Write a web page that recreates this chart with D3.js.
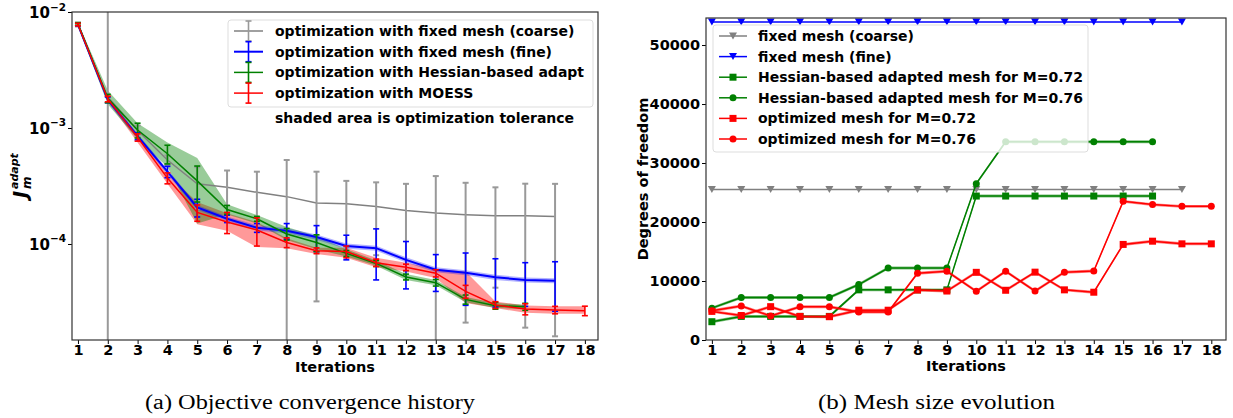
<!DOCTYPE html>
<html>
<head>
<meta charset="utf-8">
<script src="https://cdn.jsdelivr.net/npm/d3@7"></script>
<style>
body { margin: 0; background: #fff; }
svg text { font-family: "DejaVu Sans", sans-serif; font-weight: bold; fill: #000; }
.caption { font-family: "Liberation Serif", serif; font-weight: normal; }
</style>
</head>
<body>
<svg id="drawing_region" width="1233" height="418"></svg>
<script>
// ---- data (a): objective history ----
const iterations = [1,2,3,4,5,6,7,8,9,10,11,12,13,14,15,16,17,18];
const objTicks = [1e-2, 1e-3, 1e-4];
const objTickExp = ["\u22122", "\u22123", "\u22124"];

const coarseObj = [0.0078,0.00185,0.00095,0.00053,0.00033,0.000308,0.000279,0.000256,0.000226,0.000222,0.00021,0.000194,0.000185,0.000179,0.000175,0.000175,0.000173];
const coarseErr = [0.0003,0.009,0.0001,0.00005,0.00013,0.000122,0.000141,0.000274,0.000194,0.000128,0.00013,0.000136,0.0002,0.000158,0.000133,0.000156,0.000157];

const fineObj = [0.0078,0.00175,0.00085,0.00042,0.000207,0.000165,0.000138,0.00013,0.000115,0.000096,0.000092,0.000073,0.00006,0.0000566,0.0000516,0.000049,0.0000483];
const fineErr = [0.0002,0.0001,0.00006,0.000047,0.000036,0.000012,0.000012,0.00002,0.000029,0.000023,0.000043,0.000032,0.000021,0.000027,0.000023,0.00002,0.000022];
const fineBandHi = [0.0081,0.00183,0.00089,0.00044,0.000217,0.000173,0.000145,0.000137,0.000121,0.000101,0.0000966,0.0000767,0.000063,0.0000594,0.0000542,0.0000515,0.0000507];
const fineBandLo = [0.0075,0.00167,0.00081,0.0004,0.000197,0.000157,0.000131,0.000124,0.000109,0.0000912,0.0000874,0.0000694,0.000057,0.0000538,0.000049,0.0000466,0.0000459];

const hessObj = [0.0079,0.0018,0.00096,0.0006,0.00035,0.000198,0.000165,0.000122,0.000103,0.000083,0.000068,0.000052,0.0000464,0.0000333,0.0000294,0.0000288];
const hessErr = [0.0002,0.00015,0.00014,0.00011,0.00012,0.000017,0.000008,0.000014,0.000017,0.000005,0.000004,0.000003,0.000003,0.000003,0.000002,0.000002];
const hessBandHi = [0.0081,0.0021,0.0011,0.00075,0.00055,0.00022,0.000178,0.00014,0.000117,0.00009,0.000072,0.000055,0.000049,0.000035,0.000031,0.00003];
const hessBandLo = [0.0075,0.0016,0.0008,0.00046,0.00015,0.00018,0.00015,0.000108,0.00009,0.000078,0.000065,0.000049,0.000044,0.0000315,0.000028,0.0000275];

const moessObj = [0.0078,0.00178,0.00083,0.00037,0.000187,0.000155,0.000132,0.000103,0.0000875,0.000086,0.000069,0.000063,0.000056,0.000039,0.0000298,0.0000275,0.000027,0.0000266];
const moessErr = [0.0002,0.0001,0.00006,0.00004,0.00003,0.000032,0.000036,0.00001,0.000005,0.00001,0.000005,0.000004,0.000004,0.000005,0.000002,0.000003,0.000002,0.0000025];
const moessBandHi = [0.008,0.0019,0.00088,0.0004,0.00023,0.000184,0.000155,0.000112,0.000093,0.000093,0.000076,0.000069,0.000061,0.000058,0.000032,0.0000295,0.000029,0.000029];
const moessBandLo = [0.0075,0.0017,0.00075,0.00033,0.000148,0.00013,0.000094,0.000092,0.000082,0.000076,0.000063,0.000058,0.000051,0.000031,0.000028,0.0000255,0.000025,0.000025];

// ---- data (b): degrees of freedom ----
const dofTicks = [0, 10000, 20000, 30000, 40000, 50000];
const dofCoarse = [25500,25500,25500,25500,25500,25500,25500,25500,25500,25500,25500,25500,25500,25500,25500,25500,25500];
const dofFine = [53900,53900,53900,53900,53900,53900,53900,53900,53900,53900,53900,53900,53900,53900,53900,53900,53900];
const dofHess72 = [3100,4000,4000,4000,4000,8500,8500,8500,8500,24400,24400,24400,24400,24400,24400,24400];
const dofHess76 = [5400,7200,7200,7200,7200,9400,12200,12200,12200,26500,33600,33600,33600,33600,33600,33600];
const dofOpt72 = [4850,4150,5650,4000,3950,5050,5050,8470,8300,11470,8430,11500,8500,8100,16200,16750,16300,16300];
const dofOpt76 = [4950,5750,4070,5650,5650,4750,4750,11300,11650,8250,11650,8300,11500,11700,23500,22950,22650,22650];

const svg = d3.select('#drawing_region');

// ================= chart (a) =================
const A = {left: 72, top: 12, right: 598, bottom: 340};
const xa = d3.scaleLinear().domain([0.8, 18.44]).range([A.left, A.right]);
const ya = d3.scaleLog().domain([1.487e-5, 1e-2]).range([A.bottom, A.top]);

svg.append('defs').append('clipPath').attr('id', 'clipA')
   .append('rect').attr('x', A.left).attr('y', A.top)
   .attr('width', A.right - A.left).attr('height', A.bottom - A.top);

const gA = svg.append('g').attr('clip-path', 'url(#clipA)');

const seriesA = [
    {name: 'optimization with fixed mesh (coarse)', color: 'gray', errColor: '#999', v: coarseObj, e: coarseErr, lw: 1.5},
    {name: 'optimization with fixed mesh (fine)', color: 'blue', errColor: 'blue', v: fineObj, e: fineErr, lo: fineBandLo, hi: fineBandHi, lw: 2},
    {name: 'optimization with Hessian-based adapt', color: 'green', errColor: 'green', v: hessObj, e: hessErr, lo: hessBandLo, hi: hessBandHi, lw: 1.5},
    {name: 'optimization with MOESS', color: 'red', errColor: 'red', v: moessObj, e: moessErr, lo: moessBandLo, hi: moessBandHi, lw: 1.5}
];

const band = d3.area().x(d => xa(d.i)).y0(d => ya(d.lo)).y1(d => ya(d.hi));
// bands: red first, then green, then blue
[seriesA[3], seriesA[2], seriesA[1]].forEach(s => {
    const pts = s.v.map((d, k) => ({i: iterations[k], lo: s.lo[k], hi: s.hi[k]}));
    gA.append('path').attr('d', band(pts))
      .attr('fill', s.color).attr('fill-opacity', s.color === 'blue' ? 0.3 : 0.4);
});

const lineA = d3.line().x(d => xa(d.i)).y(d => ya(d.v));
seriesA.forEach(s => {
    const pts = s.v.map((d, k) => ({i: iterations[k], v: d, e: s.e[k]}));
    gA.append('path').attr('d', lineA(pts)).attr('fill', 'none')
      .attr('stroke', s.color).attr('stroke-width', s.lw);
    const eb = gA.append('g').attr('stroke', s.errColor).attr('stroke-width', s.color === 'gray' ? 2 : 1.6);
    pts.forEach(p => {
        const yHi = ya(p.v + p.e);
        const yLo = (p.v - p.e) > 0 ? ya(p.v - p.e) : A.bottom + 2;
        const cx = xa(p.i);
        eb.append('line').attr('x1', cx).attr('x2', cx).attr('y1', yHi).attr('y2', yLo);
        eb.append('line').attr('x1', cx - 3).attr('x2', cx + 3).attr('y1', yHi).attr('y2', yHi);
        eb.append('line').attr('x1', cx - 3).attr('x2', cx + 3).attr('y1', yLo).attr('y2', yLo);
    });
});

// axes (a)
const axA = svg.append('g').attr('transform', `translate(0,${A.bottom})`)
    .call(d3.axisBottom(xa).tickValues(iterations).tickSize(4).tickPadding(1).tickFormat(d3.format('d')));
axA.select('.domain').remove();
axA.selectAll('text').style('font-size', '14.5px');

const ayA = svg.append('g').attr('transform', `translate(${A.left},0)`)
    .call(d3.axisLeft(ya).tickValues(objTicks).tickSize(4).tickFormat(''));
ayA.select('.domain').remove();
ayA.selectAll('.tick').each(function(d, k) {
    const t = d3.select(this).append('text').attr('x', -6).attr('y', 5.5).attr('text-anchor', 'end');
    t.append('tspan').style('font-size', '15px').text('10');
    t.append('tspan').attr('dy', -7.5).style('font-size', '10.5px').text(objTickExp[k]);
});

svg.append('rect').attr('x', A.left).attr('y', A.top).attr('width', A.right - A.left).attr('height', A.bottom - A.top)
   .attr('fill', 'none').attr('stroke', '#333').attr('stroke-width', 1.2);

svg.append('text').attr('x', (A.left + A.right) / 2).attr('y', 372).attr('text-anchor', 'middle')
   .style('font-size', '14.5px').text('Iterations');

const yl = svg.append('g').attr('transform', `translate(27,${(A.top + A.bottom) / 2}) rotate(-90)`);
yl.append('text').attr('x', -22).attr('y', 0).style('font-size', '19px').style('font-style', 'italic').text('J');
yl.append('text').attr('x', -13).attr('y', 4).style('font-size', '12px').style('font-style', 'italic').text('m');
yl.append('text').attr('x', -13).attr('y', -9).style('font-size', '11px').style('font-style', 'italic').text('adapt');

// legend (a)
const legA = svg.append('g');
legA.append('rect').attr('x', 228).attr('y', 20).attr('width', 365).attr('height', 87).attr('rx', 3)
    .attr('fill', '#fff').attr('fill-opacity', 0.8).attr('stroke', '#ddd');
seriesA.forEach((s, k) => {
    const ry = 31 + k * 20.7;
    legA.append('line').attr('x1', 234).attr('x2', 263).attr('y1', ry).attr('y2', ry)
        .attr('stroke', s.color).attr('stroke-width', s.lw);
    legA.append('line').attr('x1', 248.5).attr('x2', 248.5).attr('y1', ry - 10).attr('y2', ry + 10)
        .attr('stroke', s.errColor).attr('stroke-width', 1.6);
    [ry - 10, ry + 10].forEach(cy => legA.append('line').attr('x1', 245.5).attr('x2', 251.5)
        .attr('y1', cy).attr('y2', cy).attr('stroke', s.errColor).attr('stroke-width', 1.6));
    legA.append('text').attr('x', 275).attr('y', ry + 5).style('font-size', '14px').text(s.name);
});
svg.append('text').attr('x', 275).attr('y', 123).style('font-size', '14px').text('shaded area is optimization tolerance');

// ================= chart (b) =================
const B = {left: 706, top: 18, right: 1226, bottom: 340};
const xb = d3.scaleLinear().domain([0.8, 18.5]).range([B.left, B.right]);
const yb = d3.scaleLinear().domain([0, 54580]).range([B.bottom, B.top]);
const bandHalf = 250; // tolerance half-width drawn around adapted meshes

const seriesB = [
    {name: 'fixed mesh (coarse)', color: 'gray', v: dofCoarse, marker: 'tri'},
    {name: 'fixed mesh (fine)', color: 'blue', v: dofFine, marker: 'tri'},
    {name: 'Hessian-based adapted mesh for M=0.72', color: 'green', v: dofHess72, marker: 'sq', band: true},
    {name: 'Hessian-based adapted mesh for M=0.76', color: 'green', v: dofHess76, marker: 'circ', band: true},
    {name: 'optimized mesh for M=0.72', color: 'red', v: dofOpt72, marker: 'sq', band: true},
    {name: 'optimized mesh for M=0.76', color: 'red', v: dofOpt76, marker: 'circ', band: true}
];

const gB = svg.append('g');
const bandB = d3.area().x(d => xb(d.i)).y0(d => yb(d.v - bandHalf)).y1(d => yb(d.v + bandHalf));
const lineB = d3.line().x(d => xb(d.i)).y(d => yb(d.v));

function marker(g, type, cx, cy, color) {
    if (type === 'tri') {
        g.append('path').attr('d', `M${cx - 4},${cy - 3.5}L${cx + 4},${cy - 3.5}L${cx},${cy + 3.5}Z`).attr('fill', color);
    } else if (type === 'sq') {
        g.append('rect').attr('x', cx - 3.5).attr('y', cy - 3.5).attr('width', 7).attr('height', 7).attr('fill', color);
    } else {
        g.append('circle').attr('cx', cx).attr('cy', cy).attr('r', 3.5).attr('fill', color);
    }
}

seriesB.forEach(s => {
    const pts = s.v.map((d, k) => ({i: iterations[k], v: d}));
    if (s.band) gB.append('path').attr('d', bandB(pts)).attr('fill', s.color).attr('fill-opacity', 0.5);
    gB.append('path').attr('d', lineB(pts)).attr('fill', 'none').attr('stroke', s.color).attr('stroke-width', 1.5);
    pts.forEach(p => marker(gB, s.marker, xb(p.i), yb(p.v), s.color));
});

const axB = svg.append('g').attr('transform', `translate(0,${B.bottom})`)
    .call(d3.axisBottom(xb).tickValues(iterations).tickSize(4).tickPadding(1).tickFormat(d3.format('d')));
axB.select('.domain').remove();
axB.selectAll('text').style('font-size', '14.5px');

const ayB = svg.append('g').attr('transform', `translate(${B.left},0)`)
    .call(d3.axisLeft(yb).tickValues(dofTicks).tickSize(4).tickPadding(2).tickFormat(d3.format('d')));
ayB.select('.domain').remove();
ayB.selectAll('text').style('font-size', '14.5px');

svg.append('rect').attr('x', B.left).attr('y', B.top).attr('width', B.right - B.left).attr('height', B.bottom - B.top)
   .attr('fill', 'none').attr('stroke', '#333').attr('stroke-width', 1.2);

svg.append('text').attr('x', (B.left + B.right) / 2).attr('y', 371).attr('text-anchor', 'middle')
   .style('font-size', '14.5px').text('Iterations');
svg.append('text').attr('transform', `translate(648,${(B.top + B.bottom) / 2}) rotate(-90)`)
   .attr('text-anchor', 'middle').style('font-size', '14.5px').text('Degrees of freedom');

// legend (b)
const legB = svg.append('g');
legB.append('rect').attr('x', 713).attr('y', 25).attr('width', 375).attr('height', 127).attr('rx', 3)
    .attr('fill', '#fff').attr('fill-opacity', 0.8).attr('stroke', '#ddd');
seriesB.forEach((s, k) => {
    const ry = 36 + k * 20.6;
    legB.append('line').attr('x1', 719).attr('x2', 747).attr('y1', ry).attr('y2', ry)
        .attr('stroke', s.color).attr('stroke-width', 1.5);
    marker(legB, s.marker, 733, ry, s.color);
    legB.append('text').attr('x', 758).attr('y', ry + 5).style('font-size', '14px').text(s.name);
});

// captions
svg.append('text').attr('class', 'caption').attr('x', 145).attr('y', 409)
   .attr('textLength', 330).attr('lengthAdjust', 'spacingAndGlyphs').style('font-size', '20px')
   .text('(a) Objective convergence history');
svg.append('text').attr('class', 'caption').attr('x', 818).attr('y', 409)
   .attr('textLength', 237).attr('lengthAdjust', 'spacingAndGlyphs').style('font-size', '20px')
   .text('(b) Mesh size evolution');
</script>
</body>
</html>
